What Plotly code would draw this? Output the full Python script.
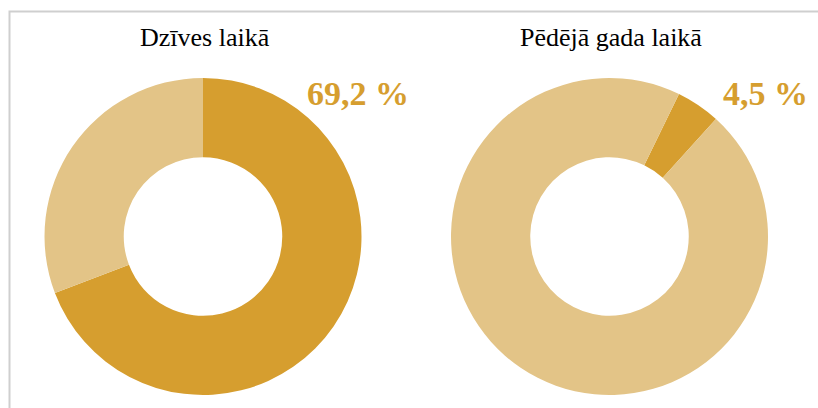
import plotly.graph_objects as go

titles = ["Dzīves laikā", "Pēdējā gada laikā"]
labels = ["Jā", "Nē"]
values_left = [69.2, 30.8]
values_right = [4.5, 95.5]
label_texts = ["69,2 %", "4,5 %"]

DARK = "#D69E2F"
LIGHT = "#E3C487"
W, H = 818, 408

def px(x):
    return x / W

def py(y):
    return 1 - y / H

fig = go.Figure()
fig.add_trace(go.Pie(
    labels=labels, values=values_left, hole=0.5, sort=False, direction="clockwise",
    rotation=0, marker=dict(colors=[DARK, LIGHT], line=dict(width=0)),
    textinfo="none", hoverinfo="label+value",
    domain=dict(x=[px(44.5), px(361.5)], y=[py(395), py(78)]),
))
fig.add_trace(go.Pie(
    labels=labels, values=values_right, hole=0.5, sort=False, direction="clockwise",
    rotation=26, marker=dict(colors=[DARK, LIGHT], line=dict(width=0)),
    textinfo="none", hoverinfo="label+value",
    domain=dict(x=[px(451), px(768)], y=[py(395), py(78)]),
))

serif = "Liberation Serif, Times New Roman, serif"
annotations = [
    dict(text=titles[0], x=px(205), y=py(37), xref="paper", yref="paper",
         showarrow=False, xanchor="center", yanchor="middle",
         font=dict(family=serif, size=26, color="#000000")),
    dict(text=titles[1], x=px(611), y=py(37), xref="paper", yref="paper",
         showarrow=False, xanchor="center", yanchor="middle",
         font=dict(family=serif, size=26, color="#000000")),
    dict(text="<b>" + label_texts[0] + "</b>", x=px(358), y=py(94), xref="paper", yref="paper",
         showarrow=False, xanchor="center", yanchor="middle",
         font=dict(family=serif, size=34, color=DARK)),
    dict(text="<b>" + label_texts[1] + "</b>", x=px(765), y=py(94), xref="paper", yref="paper",
         showarrow=False, xanchor="center", yanchor="middle",
         font=dict(family=serif, size=34, color=DARK)),
]

fig.update_layout(
    width=W, height=H,
    margin=dict(l=0, r=0, t=0, b=0),
    paper_bgcolor="white", plot_bgcolor="white",
    showlegend=False,
    annotations=annotations,
    shapes=[dict(type="rect", xref="paper", yref="paper",
                 x0=px(9.5), x1=1.2, y0=-0.2, y1=py(11.5),
                 line=dict(color="#CFCFCF", width=2), fillcolor="rgba(0,0,0,0)")],
)

fig.write_html("out.html", config={"displayModeBar": False},
               post_script="document.body.style.margin='0';document.body.style.overflow='hidden';")
